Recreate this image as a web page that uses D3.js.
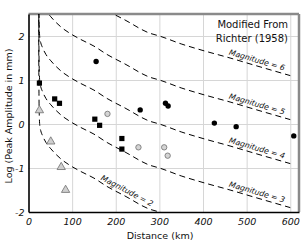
<!DOCTYPE html>
<html>
<head>
<meta charset="utf-8">
<script src="https://cdnjs.cloudflare.com/ajax/libs/d3/7.8.5/d3.min.js"></script>
<style>
body { margin: 0; background: white; }
text { font-family: "DejaVu Sans", sans-serif; fill: #111; }
.tick text { font-style: italic; font-size: 9.5px; }
.magLabel { font-style: italic; font-size: 7.8px; }
</style>
</head>
<body>
<div id="drawing"></div>
<script>
"use strict"

/**** DATA ****/

// filled squares
let squareDist = [25, 60, 71, 152, 163, 214, 214]
let squareAmp = [0.93, 0.57, 0.47, 0.11, -0.03, -0.33, -0.57]

// filled circles
let dotDist = [155, 256, 314, 320, 426, 476, 608]
let dotAmp = [1.42, 0.32, 0.47, 0.41, 0.02, -0.06, -0.27]

// open circles
let ringDist = [181, 252, 311, 319]
let ringAmp = [0.23, -0.53, -0.53, -0.72]

// open triangles
let triDist = [25, 51, 75, 85]
let triAmp = [0.31, -0.40, -0.98, -1.50]

// -log A0 against distance
let curveDist = [23.3, 23.6, 24, 24.7, 26, 28, 32, 40, 50, 60, 75, 95, 120, 150, 180, 220, 279, 300, 350, 400, 462, 520, 600]
let curveLogA0 = [-0.6, 0.5, 1.3, 1.8, 2.05, 2.15, 2.26, 2.42, 2.55, 2.66, 2.8, 2.94, 3.08, 3.23, 3.42, 3.63, 3.94, 4.0, 4.18, 4.33, 4.5, 4.67, 4.9]

let magnitudes = [2, 3, 4, 5, 6]
let labelDist = [220, 520, 520, 520, 520]

let xTicks = [0, 100, 200, 300, 400, 500, 600]
let yTicks = [-2, -1, 0, 1, 2]


/**** CANVAS SETUP ****/

let svgWidth = 305
let svgHeight = 243

let plotLeft = 28.5
let plotRight = 299
let plotTop = 14
let plotBottom = 212

let svg = d3.select("#drawing")
.append("svg")
.attr("width", svgWidth)
.attr("height", svgHeight)

svg.append("defs")
.append("clipPath")
.attr("id", "plotClip")
.append("rect")
.attr("x", plotLeft)
.attr("y", plotTop)
.attr("width", plotRight - plotLeft)
.attr("height", plotBottom - plotTop)


/**** SCALES ****/

let xScale = d3.scaleLinear()
.domain([0, 620])
.range([plotLeft, plotRight])

let yScale = d3.scaleLinear()
.domain([-2, 2.5])
.range([plotBottom, plotTop])


/**** GRID ****/

svg.append("g")
.attr("transform", "translate(0," + plotBottom + ")")
.call(d3.axisBottom(xScale).tickValues(xTicks.slice(1)).tickSize(-(plotBottom - plotTop)).tickFormat(""))
.call(g => g.select(".domain").remove())
.selectAll("line")
.attr("stroke", "#d6d6d6")

svg.append("g")
.attr("transform", "translate(" + plotLeft + ",0)")
.call(d3.axisLeft(yScale).tickValues(yTicks.slice(1)).tickSize(-(plotRight - plotLeft)).tickFormat(""))
.call(g => g.select(".domain").remove())
.selectAll("line")
.attr("stroke", "#d6d6d6")


/**** FRAME ****/

svg.append("line")
.attr("x1", plotLeft)
.attr("y1", plotTop)
.attr("x2", plotRight)
.attr("y2", plotTop)
.attr("stroke", "#8a8a8a")
.attr("stroke-width", 2.5)

svg.append("line")
.attr("x1", plotRight)
.attr("y1", plotTop)
.attr("x2", plotRight)
.attr("y2", plotBottom)
.attr("stroke", "#8a8a8a")
.attr("stroke-width", 2.5)


/**** MAGNITUDE CURVES ****/

let curveLine = d3.line()
.x(d => xScale(d[0]))
.y(d => yScale(d[1]))
.curve(d3.curveMonotoneX)

let curveGroup = svg.append("g")
.attr("clip-path", "url(#plotClip)")

magnitudes.forEach(function(m, i){

    let pts = curveDist.map((d, j) => [d, m - curveLogA0[j]])

    curveGroup.append("path")
    .attr("d", curveLine(pts))
    .attr("fill", "none")
    .attr("stroke", "black")
    .attr("stroke-width", 1)
    .attr("stroke-dasharray", "6,4")

    // label sits just above the curve, turned along it
    let k = curveDist.indexOf(labelDist[i])
    let x0 = xScale(curveDist[k - 1]), y0 = yScale(m - curveLogA0[k - 1])
    let x1 = xScale(curveDist[k + 1]), y1 = yScale(m - curveLogA0[k + 1])
    let angle = Math.atan2(y1 - y0, x1 - x0) * 180 / Math.PI

    svg.append("text")
    .attr("class", "magLabel")
    .attr("transform", "translate(" + xScale(curveDist[k]) + "," + yScale(m - curveLogA0[k]) + ") rotate(" + angle + ")")
    .attr("y", -3)
    .style("text-anchor", "middle")
    .text("Magnitude = " + m)
})


/**** DATA POINTS ****/

svg.append("g")
.selectAll("path")
.data(d3.zip(triDist, triAmp))
.join("path")
.attr("d", d3.symbol(d3.symbolTriangle, 30))
.attr("transform", d => "translate(" + xScale(d[0]) + "," + yScale(d[1]) + ")")
.attr("fill", "#cfcfcf")
.attr("stroke", "#6e6e6e")
.attr("stroke-width", 0.8)

svg.append("g")
.selectAll("circle")
.data(d3.zip(ringDist, ringAmp))
.join("circle")
.attr("cx", d => xScale(d[0]))
.attr("cy", d => yScale(d[1]))
.attr("r", 2.7)
.attr("fill", "#d4d4d4")
.attr("stroke", "#6e6e6e")
.attr("stroke-width", 0.8)

svg.append("g")
.selectAll("rect")
.data(d3.zip(squareDist, squareAmp))
.join("rect")
.attr("x", d => xScale(d[0]) - 2.6)
.attr("y", d => yScale(d[1]) - 2.6)
.attr("width", 5.2)
.attr("height", 5.2)
.attr("fill", "black")

svg.append("g")
.selectAll("circle")
.data(d3.zip(dotDist, dotAmp))
.join("circle")
.attr("cx", d => xScale(d[0]))
.attr("cy", d => yScale(d[1]))
.attr("r", 2.7)
.attr("fill", "black")


/**** AXES ****/

svg.append("g")
.attr("transform", "translate(0," + plotBottom + ")")
.call(d3.axisBottom(xScale).tickValues(xTicks).tickSize(0).tickPadding(6).tickFormat(d => String(d)))
.call(g => g.select(".domain").attr("stroke", "black").attr("stroke-width", 1.6))

svg.append("g")
.attr("transform", "translate(" + plotLeft + ",0)")
.call(d3.axisLeft(yScale).tickValues(yTicks).tickSize(0).tickPadding(4).tickFormat(d => String(d)))
.call(g => g.select(".domain").attr("stroke", "black").attr("stroke-width", 1.6))

svg.selectAll(".tick text")
.attr("fill", "#111")


/**** LABELS ****/

svg.append("text")
.attr("x", 160)
.attr("y", 239)
.style("text-anchor", "middle")
.style("font-size", "9.5px")
.text("Distance (km)")

svg.append("text")
.attr("transform", "rotate(-90)")
.attr("x", -116)
.attr("y", 12)
.style("text-anchor", "middle")
.style("font-size", "9.5px")
.text("Log (Peak Amplitude in mm)")

svg.append("text")
.attr("x", 288)
.attr("y", 28)
.style("text-anchor", "end")
.style("font-size", "10px")
.text("Modified From")

svg.append("text")
.attr("x", 288)
.attr("y", 42)
.style("text-anchor", "end")
.style("font-size", "10px")
.text("Richter (1958)")
</script>
</body>
</html>
